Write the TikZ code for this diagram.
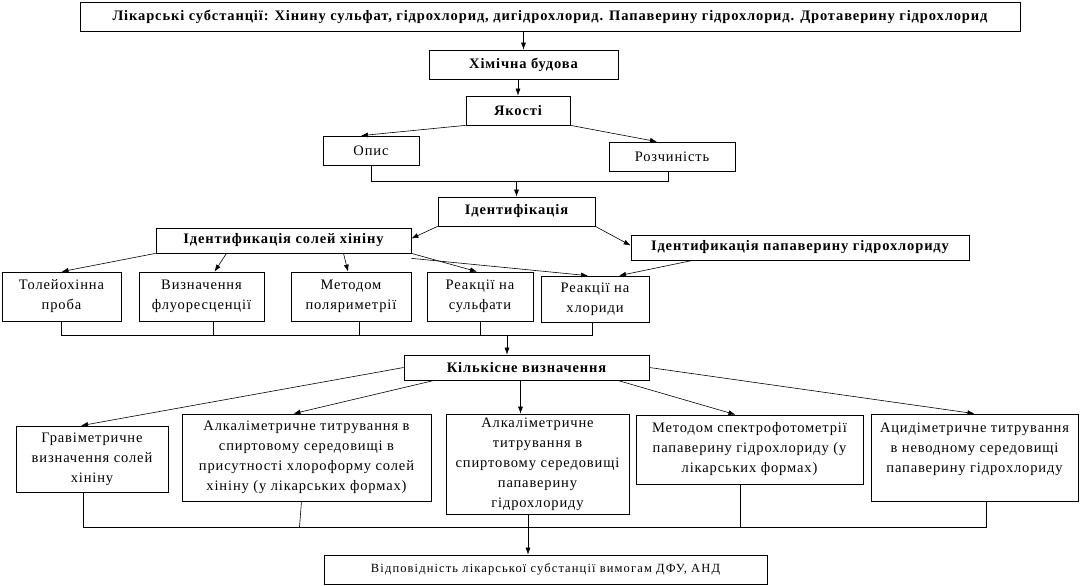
\documentclass[tikz,border=0pt]{standalone}
\usepackage{fontspec}
\setmainfont{Liberation Serif}
\newfontfamily\spc[LetterSpace=6]{Liberation Serif}
\newfontfamily\spcw[LetterSpace=9]{Liberation Serif}
\usetikzlibrary{arrows.meta,calc}
\begin{document}
\begin{tikzpicture}[x=1pt,y=-1pt,
  box/.style={draw, line width=0.7pt, inner sep=0pt, align=center, font=\spc\fontsize{14.5}{20}\selectfont},
  bbox/.style={box, font=\spc\bfseries\fontsize{14.5}{20}\selectfont},
  arr/.style={-{Latex[length=7pt,width=5pt]}, line width=0.6pt},
  ln/.style={line width=0.6pt}]
\fill[white] (0,0) rectangle (1080,586);
\useasboundingbox (0,0) rectangle (1080,586);

\node[bbox, minimum width=940, minimum height=29] (top) at (550,16.5) {Лікарські субстанції: Хінину сульфат, гідрохлорид, дигідрохлорид. Папаверину гідрохлорид. Дротаверину гідрохлорид};
\node[bbox, minimum width=189, minimum height=29] (chem) at (523.5,64.5) {Хімічна будова};
\node[bbox, minimum width=104, minimum height=29] (yak) at (518,110.5) {Якості};
\node[box, minimum width=96, minimum height=29] (opys) at (371,150.5) {Опис};
\node[box, minimum width=126, minimum height=29] (rozch) at (672,156.5) {Розчиність};
\node[bbox, minimum width=157, minimum height=29] (ident) at (516.5,211.5) {Ідентифікація};
\node[bbox, minimum width=255, minimum height=25] (idq) at (283.5,240.5) {Ідентификація солей хініну};
\node[bbox, minimum width=338, minimum height=25] (idp) at (800,247.5) {Ідентификація папаверину гідрохлориду};
\node[box, minimum width=119, minimum height=49] (tol) at (61.5,296.5) {Толейохінна\\проба};
\node[box, minimum width=125, minimum height=49] (viz) at (201.5,296.5) {Визначення\\флуоресценції};
\node[box, minimum width=120, minimum height=49] (pol) at (351,296.5) {Методом\\поляриметрії};
\node[box, minimum width=106, minimum height=49] (sulf) at (480,296.5) {Реакції на\\сульфати};
\node[box, minimum width=108, minimum height=46] (chlor) at (595,299) {Реакції на\\хлориди};
\node[bbox, minimum width=245, minimum height=25] (kilk) at (526.5,367.5) {Кількісне визначення};
\node[box, minimum width=152, minimum height=66] (grav) at (92,459) {Гравіметричне\\визначення солей\\хініну};
\node[box, minimum width=249, minimum height=87] (alkq) at (306.5,457.5) {Алкаліметричне титрування в\\спиртовому середовищі в\\присутності хлороформу солей\\хініну (у лікарських формах)};
\node[box, minimum width=183, minimum height=100] (alkp) at (537.5,464) {Алкаліметричне\\титрування в\\спиртовому середовищі\\папаверину\\гідрохлориду};
\node[box, minimum width=227, minimum height=69] (spec) at (749.5,449.5) {Методом спектрофотометрії\\папаверину гідрохлориду (у\\лікарських формах)};
\node[box, minimum width=207, minimum height=87] (acid) at (974.5,457.5) {Ацидіметричне титрування\\в неводному середовищі\\папаверину гідрохлориду\\\mbox{}};
\node[box, minimum width=443, minimum height=29, font=\spcw\fontsize{12.5}{14}\selectfont] (vid) at (545.5,569.5) {Відповідність лікарської субстанції вимогам ДФУ, АНД};

% top chain
\draw[arr] (top.south -| chem.north) -- (chem.north);
\draw[arr] (chem.south -| yak.north) -- (yak.north);
\draw[arr] (yak.south west) -- ([xshift=-10pt]opys.north);
\draw[arr] (yak.south east) -- ([xshift=-15pt]rozch.north);
\coordinate (j1) at (515,181);
\draw[ln] (opys.south) -- (opys.south |- j1) -- ([xshift=-4pt]rozch.south |- j1) -- ([xshift=-4pt]rozch.south);
\draw[arr] (ident.north |- j1) -- (ident.north);
\draw[arr] (ident.south west) -- ([yshift=2pt]idq.east);
\draw[arr] (ident.south east) -- ([yshift=2pt]idp.west);

% identification of quinine salts
\draw[arr] (idq.south west) -- (tol.north);
\draw[arr] ([xshift=-57pt]idq.south) -- ([xshift=13pt]viz.north);
\draw[arr] ([xshift=60pt]idq.south) -- ([xshift=-3pt]pol.north);
\draw[arr] (idq.south east) -- ([xshift=-3pt]sulf.north);
\draw[arr] ([yshift=-5pt]idq.south east) -- ([xshift=-7pt]chlor.north);
\draw[arr] ([xshift=-107pt]idp.south) -- ([xshift=24pt]chlor.north);

% collector row 1
\coordinate (j2) at (507,335);
\draw[ln] (tol.south) -- (tol.south |- j2) -- ([xshift=-3pt]chlor.south |- j2) -- ([xshift=-3pt]chlor.south);
\draw[ln] ([xshift=12pt]viz.south) -- ([xshift=12pt]viz.south |- j2);
\draw[ln] ([xshift=8pt]pol.south) -- ([xshift=8pt]pol.south |- j2);
\draw[ln] (sulf.south) -- (sulf.south |- j2);
\draw[arr] (j2) -- (j2 |- kilk.north);

% quantitative
\draw[arr] (kilk.west) -- ([xshift=-11pt]grav.north);
\draw[arr] ([xshift=-92pt]kilk.south) -- ([xshift=-13pt]alkq.north);
\draw[arr] ([xshift=-6pt]kilk.south) -- ([xshift=-6pt]kilk.south |- alkp.north);
\draw[arr] ([xshift=91pt]kilk.south) -- ([xshift=-14pt]spec.north);
\draw[arr] (kilk.east) -- (acid.north);

% collector bottom
\coordinate (j3) at (528,527);
\draw[ln] ([xshift=-9pt]grav.south) -- ([xshift=-9pt]grav.south |- j3) -- ([xshift=12pt]acid.south |- j3) -- ([xshift=12pt]acid.south);
\draw[ln] ([xshift=-5pt]alkq.south) -- ([xshift=-7pt]alkq.south |- j3);
\draw[ln] ([xshift=-9pt]spec.south) -- ([xshift=-9pt]spec.south |- j3);
\draw[arr] (alkp.south -| j3) -- (vid.north -| j3);
\end{tikzpicture}
\end{document}
